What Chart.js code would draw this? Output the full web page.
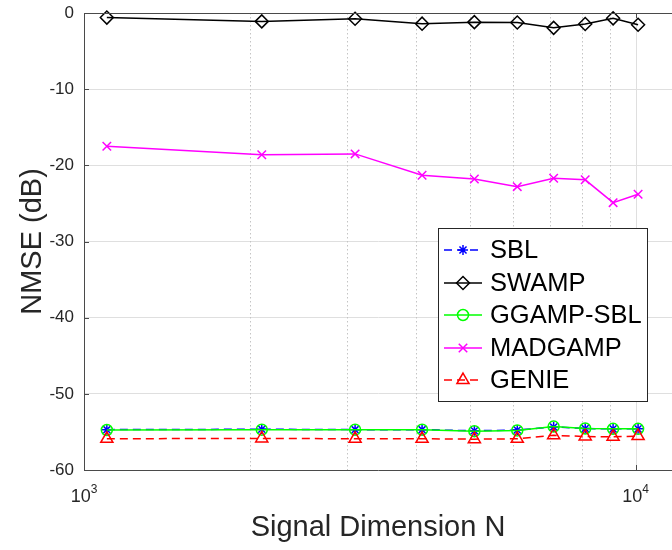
<!DOCTYPE html>
<html>
<head>
<meta charset="utf-8">
<script src="https://cdn.jsdelivr.net/npm/chart.js@4/dist/chart.umd.min.js"></script>
<style>
html,body{margin:0;padding:0;background:#fff;}
#wrap{width:672px;height:550px;position:relative;}
</style>
</head>
<body>
<div id="wrap"><canvas id="c" width="672" height="550"></canvas></div>
<script>
// ---- data ----
const dims = [1100, 2100, 3100, 4100, 5100, 6100, 7100, 8100, 9100, 10100];
const seriesNames = ['SBL', 'SWAMP', 'GGAMP-SBL', 'MADGAMP', 'GENIE'];
const sbl     = [-54.7, -54.65, -54.7, -54.7, -54.85, -54.75, -54.35, -54.55, -54.6, -54.6];
const swamp   = [-0.6, -1.1, -0.75, -1.4, -1.2, -1.25, -1.95, -1.45, -0.7, -1.55];
const ggamp   = [-54.75, -54.7, -54.7, -54.7, -54.9, -54.8, -54.3, -54.55, -54.6, -54.6];
const madgamp = [-17.5, -18.6, -18.5, -21.3, -21.8, -22.8, -21.7, -21.9, -24.9, -23.8];
const genie   = [-55.9, -55.85, -55.9, -55.9, -55.95, -55.9, -55.45, -55.6, -55.65, -55.55];
const yTicks = [0, -10, -20, -30, -40, -50, -60];
const xMajorTicks = [1000, 10000];
const xMinorTicks = [2000, 3000, 4000, 5000, 6000, 7000, 8000, 9000];
const xTickBase = ['10', '10'];
const xTickExp = ['3', '4'];
const xTitle = 'Signal Dimension N';
const yTitle = 'NMSE (dB)';

const FONT = "'Liberation Sans', Arial, Helvetica, sans-serif";
const TXT = '#262626';

function pts(vals) { return dims.map((d, i) => ({x: d, y: vals[i]})); }

const styles = [
  {color: '#0000ff', dash: [8, 5], pointStyle: 'star', r: 5, order: 5},
  {color: '#000000', dash: [], pointStyle: 'rectRot', r: 6.5, order: 4},
  {color: '#00ff00', dash: [], pointStyle: 'circle', r: 5.5, order: 3},
  {color: '#ff00ff', dash: [], pointStyle: 'crossRot', r: 6, order: 2},
  {color: '#ff0000', dash: [8, 5], pointStyle: 'triangle', r: 7, order: 1}
];
const values = [sbl, swamp, ggamp, madgamp, genie];

const datasets = seriesNames.map((name, i) => ({
  label: name,
  data: pts(values[i]),
  borderColor: styles[i].color,
  borderWidth: 1.5,
  borderDash: styles[i].dash,
  pointStyle: styles[i].pointStyle,
  pointRadius: styles[i].r,
  pointBorderWidth: 1.5,
  pointBorderColor: styles[i].color,
  pointBackgroundColor: 'rgba(0,0,0,0)',
  tension: 0,
  fill: false,
  clip: false,
  order: styles[i].order
}));

function drawMarker(ctx, style, x, y, r, color) {
  ctx.save();
  ctx.strokeStyle = color;
  ctx.lineWidth = 1.5;
  ctx.setLineDash([]);
  if (Chart.helpers && Chart.helpers.drawPoint) {
    ctx.fillStyle = 'rgba(0,0,0,0)';
    Chart.helpers.drawPoint(ctx, {pointStyle: style, radius: r, rotation: 0, borderWidth: 1.5}, x, y);
  }
  ctx.restore();
}

const decor = {
  id: 'decor',
  beforeDatasetsDraw(chart) {
    const {ctx, chartArea: a, scales: {x}} = chart;
    ctx.save();
    ctx.lineWidth = 1;
    ctx.strokeStyle = '#c4c4c4';
    ctx.setLineDash([1.5, 2.5]);
    xMinorTicks.forEach(v => {
      const p = Math.round(x.getPixelForValue(v)) + 0.5;
      ctx.beginPath(); ctx.moveTo(p, a.top); ctx.lineTo(p, a.bottom); ctx.stroke();
    });
    ctx.setLineDash([]);
    ctx.strokeStyle = '#dfdfdf';
    xMajorTicks.forEach(v => {
      const p = Math.round(x.getPixelForValue(v)) + 0.5;
      if (p <= a.left + 1) return;
      ctx.beginPath(); ctx.moveTo(p, a.top); ctx.lineTo(p, a.bottom); ctx.stroke();
    });
    ctx.restore();
  },
  afterDraw(chart) {
    const {ctx, chartArea: a, scales: {x, y}} = chart;
    ctx.save();
    // top border
    ctx.strokeStyle = '#4a4a4a';
    ctx.lineWidth = 1;
    const top = Math.round(a.top) + 0.5;
    ctx.beginPath(); ctx.moveTo(a.left, top); ctx.lineTo(a.right, top); ctx.stroke();
    // inward ticks
    yTicks.forEach(v => {
      const p = Math.round(y.getPixelForValue(v)) + 0.5;
      ctx.beginPath(); ctx.moveTo(a.left, p); ctx.lineTo(a.left + 5, p); ctx.stroke();
    });
    xMajorTicks.forEach(v => {
      const p = Math.round(x.getPixelForValue(v)) + 0.5;
      ctx.beginPath(); ctx.moveTo(p, a.bottom); ctx.lineTo(p, a.bottom - 5); ctx.stroke();
      ctx.beginPath(); ctx.moveTo(p, a.top); ctx.lineTo(p, a.top + 5); ctx.stroke();
    });
    // x tick labels with superscript exponent
    ctx.fillStyle = TXT;
    ctx.textBaseline = 'alphabetic';
    ctx.textAlign = 'left';
    xMajorTicks.forEach((v, i) => {
      const p = x.getPixelForValue(v);
      ctx.font = '18px ' + FONT;
      const wb = ctx.measureText(xTickBase[i]).width;
      ctx.font = '12px ' + FONT;
      const we = ctx.measureText(xTickExp[i]).width;
      const start = p - (wb + we) / 2;
      ctx.font = '18px ' + FONT;
      ctx.fillText(xTickBase[i], start, 502);
      ctx.font = '12px ' + FONT;
      ctx.fillText(xTickExp[i], start + wb, 493);
    });
    // legend
    const lx = 438, ly = 228, lw = 209, lh = 173;
    ctx.fillStyle = '#ffffff';
    ctx.fillRect(lx, ly, lw, lh);
    ctx.strokeStyle = '#262626';
    ctx.lineWidth = 1;
    ctx.strokeRect(lx + 0.5, ly + 0.5, lw, lh);
    const rowY = [250, 283, 315, 348, 380];
    chart.data.datasets.forEach((ds, i) => {
      const cy = rowY[i];
      ctx.save();
      ctx.strokeStyle = ds.borderColor;
      ctx.lineWidth = 1.5;
      ctx.setLineDash(ds.borderDash || []);
      ctx.beginPath(); ctx.moveTo(444, cy); ctx.lineTo(482, cy); ctx.stroke();
      ctx.restore();
      drawMarker(ctx, ds.pointStyle, 463, cy, ds.pointRadius, ds.borderColor);
      ctx.fillStyle = '#000';
      ctx.font = '25.5px ' + FONT;
      ctx.textBaseline = 'middle';
      ctx.textAlign = 'left';
      ctx.fillText(ds.label, 490, cy + 1);
    });
    ctx.restore();
  }
};

new Chart(document.getElementById('c'), {
  type: 'line',
  data: {datasets},
  options: {
    responsive: false,
    animation: false,
    devicePixelRatio: 1,
    layout: {autoPadding: false, padding: {top: 13, right: 0, bottom: 0, left: 0}},
    plugins: {legend: {display: false}, tooltip: {enabled: false}},
    scales: {
      x: {
        type: 'logarithmic',
        min: 1000,
        max: 11636,
        afterBuildTicks: s => { s.ticks = xMajorTicks.concat(xMinorTicks).map(v => ({value: v})); },
        afterFit: s => { s.height = 80; s.paddingLeft = 0; s.paddingRight = 0; },
        ticks: {display: false},
        grid: {display: false},
        border: {display: true, color: '#4a4a4a', width: 1},
        title: {display: true, text: xTitle, color: TXT, font: {size: 29, family: FONT, lineHeight: 1}, padding: {top: 0, bottom: 8}}
      },
      y: {
        type: 'linear',
        min: -60,
        max: 0,
        afterBuildTicks: s => { s.ticks = yTicks.map(v => ({value: v})); },
        afterFit: s => { s.width = 84; s.paddingTop = 0; s.paddingBottom = 0; },
        ticks: {color: TXT, font: {size: 17, family: FONT}, padding: 10, callback: v => String(v)},
        grid: {color: '#dfdfdf', drawTicks: false, lineWidth: 1},
        border: {display: true, color: '#4a4a4a', width: 1},
        title: {display: true, text: yTitle, color: TXT, font: {size: 29, family: FONT, lineHeight: 1}, padding: {top: 18, bottom: 0}}
      }
    }
  },
  plugins: [decor]
});
</script>
</body>
</html>
